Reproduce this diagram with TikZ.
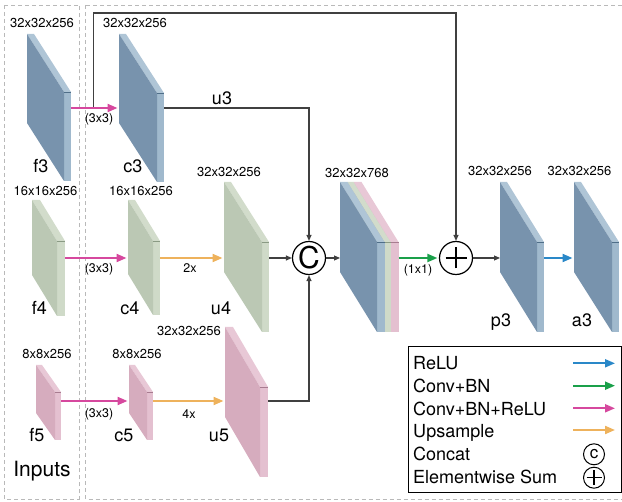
\documentclass[tikz,border=0pt]{standalone}
\usepackage{fontspec}
\setmainfont{TeX Gyre Heros}
\usetikzlibrary{arrows.meta}

\definecolor{bluefront}{HTML}{7893AD}
\definecolor{blueside}{HTML}{A0B9CD}
\definecolor{bluetop}{HTML}{AFC5D6}
\definecolor{blueedge}{HTML}{4F6E88}
\definecolor{greenfront}{HTML}{BBC8B4}
\definecolor{greenside}{HTML}{CFDAC8}
\definecolor{greentop}{HTML}{D2DCCB}
\definecolor{greenedge}{HTML}{8A9A84}
\definecolor{pinkfront}{HTML}{D6ACBE}
\definecolor{pinkside}{HTML}{E4C0D0}
\definecolor{pinktop}{HTML}{E8C8D6}
\definecolor{pinkedge}{HTML}{A87C90}
\definecolor{convrelucol}{HTML}{D6489E}
\definecolor{upcol}{HTML}{EEB25C}
\definecolor{convcol}{HTML}{1AA04A}
\definecolor{relucol}{HTML}{2A88C8}
\definecolor{linkgray}{HTML}{404040}

\begin{document}
\begin{tikzpicture}[x=1pt,y=-1pt]
    % Style definition for the feature slabs (colour, width, drop, height, thickness, arrow level)
    \tikzset{pics/slab/.style n args={6}{code={
        \fill[#1top] (0,0) -- (#5,0) -- (#2+#5,#3) -- (#2,#3) -- cycle;
        \fill[#1side] (#2,#3) rectangle (#2+#5,#3+#4);
        \fill[#1front] (0,0) -- (#2,#3) -- (#2,#3+#4) -- (0,#4) -- cycle;
        \draw[#1edge, line width=0.5pt] (#2,#3) -- (#2+#5,#3);
        \coordinate (-l) at (0,#6);
        \coordinate (-r) at (#2+#5,#6);
    }}}
    \tikzset{dimtxt/.style={anchor=base, inner sep=0pt, font=\fontsize{13}{15}\selectfont},
             lbltxt/.style={anchor=base, inner sep=0pt, font=\fontsize{18}{20}\selectfont},
             optxt/.style={anchor=base, inner sep=0pt, font=\fontsize{12.5}{14}\selectfont},
             keytxt/.style={anchor=base west, inner sep=0pt, font=\fontsize{18}{20}\selectfont},
             opcircle/.style={circle, draw=black, line width=1.2pt, minimum size=33pt, inner sep=0pt},
             keycircle/.style={circle, draw=black, line width=1pt, minimum size=21pt, inner sep=0pt,
                               font=\fontsize{17}{18}\selectfont},
             dashbox/.style={draw=gray!55, dash pattern=on 4pt off 3pt, line width=0.8pt}}
    \tikzstyle{colarrow} = [line width=2pt, -{Triangle[length=10pt,width=8pt]}, shorten >=1.5pt]
    \tikzstyle{pinkarrow} = [colarrow, draw=convrelucol]
    \tikzstyle{orangearrow} = [colarrow, draw=upcol]
    \tikzstyle{greenarrow} = [colarrow, draw=convcol]
    \tikzstyle{bluearrow} = [colarrow, draw=relucol]
    \tikzstyle{link} = [line width=1.1pt, draw=linkgray, -{Triangle[length=6pt,width=5pt]}]

    \useasboundingbox (0,0) rectangle (622,502);

    % Dashed frames
    \draw[dashbox] (4.5,5) rectangle (79,499);
    \draw[dashbox] (85.5,5) rectangle (640,499);

    % Input and conv slabs
    \pic (f3) at (27,34) {slab={blue}{37}{58}{89}{7}{74}};
    \pic (c3) at (119,34) {slab={blue}{38}{59}{89}{7}{74}};
    \pic (f4) at (32,200) {slab={green}{25}{41}{75}{8}{58}};
    \pic (c4) at (128,200) {slab={green}{25}{41}{74}{7}{58}};
    \pic (u4) at (224,182) {slab={green}{38}{60}{90}{7}{76}};
    \pic (f5) at (36,365) {slab={pink}{19}{27}{48}{6}{36}};
    \pic (c5) at (129,365) {slab={pink}{18}{27}{48}{6}{36}};
    \pic (u5) at (225,327) {slab={pink}{35}{60}{90}{8}{74}};

    % Concatenated slab, back to front
    \pic (catp) at (353.5,182) {slab={pink}{37}{60}{90}{8}{76}};
    \pic (catg) at (347.5,182) {slab={green}{37}{60}{90}{6}{76}};
    \pic (catb) at (340,182) {slab={blue}{37}{60}{90}{7.5}{76}};

    % Output slabs
    \pic (p3) at (500,182) {slab={blue}{37}{60}{90}{7}{76}};
    \pic (a3) at (574,182) {slab={blue}{38}{60}{90}{7}{76}};

    % Concat and sum
    \node[opcircle, font=\fontsize{30}{30}\selectfont] (cat) at (309,258) {C};
    \node[opcircle] (sum) at (456,258) {};
    \draw[line width=2.8pt] ([xshift=-10.5pt]sum.center) -- ([xshift=10.5pt]sum.center);
    \draw[line width=2.8pt] ([yshift=-10.5pt]sum.center) -- ([yshift=10.5pt]sum.center);

    % Connections
    \coordinate (j3) at (93.5,108);
    \coordinate (skip) at (93.5,13);
    \draw[link] (j3) -- (skip) -| (sum.north);
    \draw[pinkarrow] (f3-r) -- (c3-l);
    \draw[link] (c3-r) -| (cat.north);
    \draw[pinkarrow] (f4-r) -- (c4-l);
    \draw[orangearrow] (c4-r) -- (u4-l);
    \draw[link] (u4-r) -- (cat.west);
    \draw[pinkarrow] (f5-r) -- (c5-l);
    \draw[orangearrow] (c5-r) -- (u5-l);
    \draw[link] (u5-r) -| (cat.south);
    \draw[link] (cat.east) -- (catb-l);
    \draw[greenarrow] (catp-r) -- (sum.west);
    \draw[link] (sum.east) -- (p3-l);
    \draw[bluearrow] (p3-r) -- (a3-l);

    % Sizes
    \node[dimtxt] (f3dim) at (42,28) {32x32x256};
    \node[dimtxt] (c3dim) at (135,28) {32x32x256};
    \node[dimtxt] (f4dim) at (45.5,196) {16x16x256};
    \node[dimtxt] (c4dim) at (141,196) {16x16x256};
    \node[dimtxt] (u4dim) at (229,177) {32x32x256};
    \node[dimtxt] (f5dim) at (47,359) {8x8x256};
    \node[dimtxt] (c5dim) at (137,359) {8x8x256};
    \node[dimtxt] (u5dim) at (189,336) {32x32x256};
    \node[dimtxt] (catdim) at (357,178) {32x32x768};
    \node[dimtxt] (p3dim) at (500,176) {32x32x256};
    \node[dimtxt] (a3dim) at (579.5,176) {32x32x256};

    % Names
    \node[lbltxt] (f3lbl) at (41,173) {f3};
    \node[lbltxt] (c3lbl) at (133,173) {c3};
    \node[lbltxt] (u3lbl) at (222,105) {u3};
    \node[lbltxt] (f4lbl) at (39.5,315) {f4};
    \node[lbltxt] (c4lbl) at (130,315) {c4};
    \node[lbltxt] (u4lbl) at (221,315) {u4};
    \node[lbltxt] (f5lbl) at (37,442) {f5};
    \node[lbltxt] (c5lbl) at (124,442) {c5};
    \node[lbltxt] (u5lbl) at (219,442) {u5};
    \node[lbltxt] (p3lbl) at (501,327) {p3};
    \node[lbltxt] (a3lbl) at (582,327) {a3};
    \node[lbltxt, font=\fontsize{21}{23}\selectfont] (inputs) at (42,477) {Inputs};

    % Operation labels
    \node[optxt] (k3a) at (99,122.5) {(3x3)};
    \node[optxt] (k3b) at (99,272.5) {(3x3)};
    \node[optxt] (k3c) at (99,418) {(3x3)};
    \node[optxt] (up2) at (190,273) {2x};
    \node[optxt] (up4) at (189,419) {4x};
    \node[optxt] (k1) at (418,274) {(1x1)};

    % Legend
    \draw[line width=1pt] (408,347) rectangle (621,493);
    \node[keytxt] (krelu) at (413,370) {ReLU};
    \node[keytxt] (kconv) at (413,392.7) {Conv+BN};
    \node[keytxt] (kconvrelu) at (413,415.3) {Conv+BN+ReLU};
    \node[keytxt] (kup) at (413,437.9) {Upsample};
    \node[keytxt] (kcat) at (413,460.5) {Concat};
    \node[keytxt] (ksum) at (413,483.2) {Elementwise Sum};
    \coordinate (arelu) at (573,363.3);
    \coordinate (aconv) at (573,385.7);
    \coordinate (aconvrelu) at (573,408.3);
    \coordinate (aup) at (573,430);
    \draw[bluearrow, shorten >=0pt] (arelu) -- ++(42,0);
    \draw[greenarrow, shorten >=0pt] (aconv) -- ++(42,0);
    \draw[pinkarrow, shorten >=0pt] (aconvrelu) -- ++(42,0);
    \draw[orangearrow, shorten >=0pt] (aup) -- ++(42,0);
    \node[keycircle] (scat) at (594,454.3) {c};
    \node[keycircle] (ssum) at (594,477.7) {};
    \draw[line width=1.6pt] ([xshift=-7.5pt]ssum.center) -- ([xshift=7.5pt]ssum.center);
    \draw[line width=1.6pt] ([yshift=-7.5pt]ssum.center) -- ([yshift=7.5pt]ssum.center);

\end{tikzpicture}
\end{document}
